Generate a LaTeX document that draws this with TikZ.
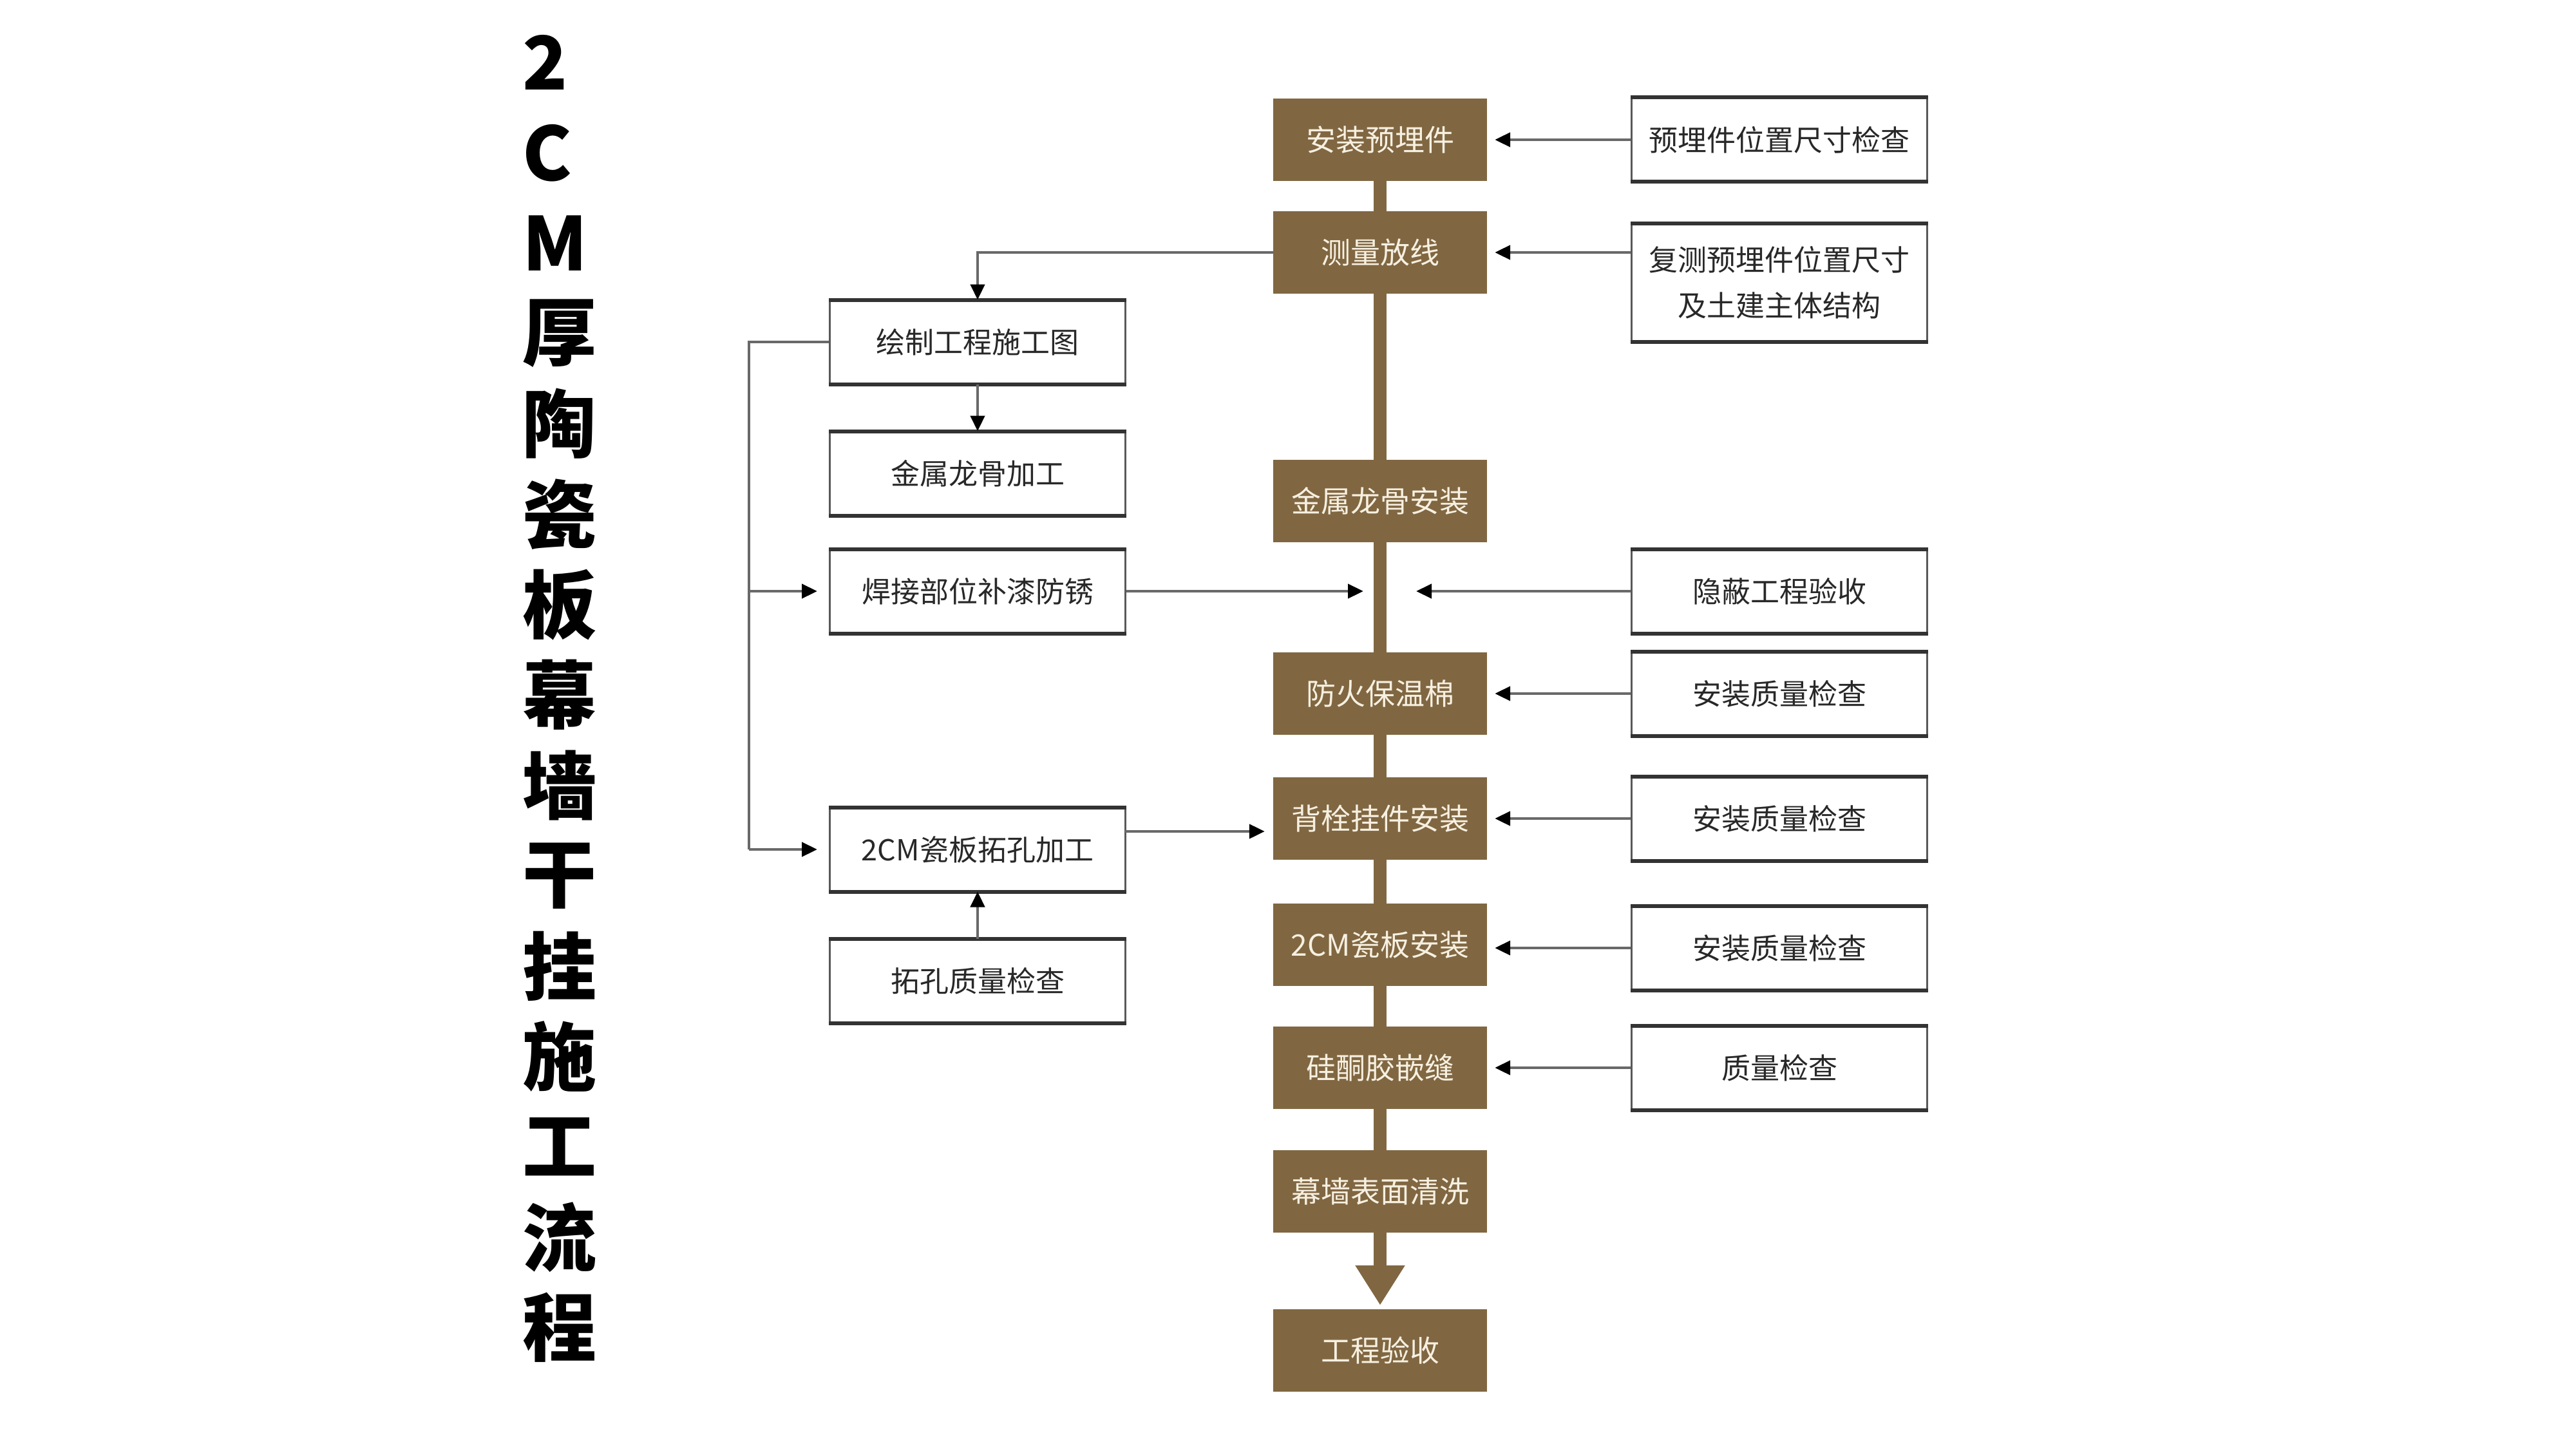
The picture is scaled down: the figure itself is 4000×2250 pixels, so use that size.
\documentclass[tikz,border=0pt]{standalone}
\usepackage{fontspec}
\setmainfont{Noto Sans CJK SC}
\usetikzlibrary{arrows.meta}
\definecolor{brn}{RGB}{128,103,66}
\definecolor{cream}{RGB}{247,240,225}
\definecolor{lgray}{RGB}{105,105,105}
\definecolor{boxtext}{RGB}{40,40,40}
\begin{document}
\begin{tikzpicture}[x=1pt,y=-1pt,
  brownbox/.style={fill=brn, minimum width=332pt, minimum height=128pt, inner sep=0pt,
    text=cream, font=\fontsize{46pt}{56pt}\selectfont},
  whitebox/.style={draw=black!65, line width=3pt, fill=white, minimum width=459pt,
    minimum height=128pt, inner sep=0pt, text=boxtext, align=center,
    font=\fontsize{45pt}{71pt}\selectfont},
  conn/.style={draw=lgray, line width=4.5pt},
  arr/.style={conn, -{Triangle[length=24pt,width=22pt,color=black,fill=black]}},
  brnline/.style={draw=brn, line width=20pt},
  titlechar/.style={anchor=west, inner sep=0pt, font=\fontsize{115pt}{120pt}\selectfont\bfseries},
]
\useasboundingbox[fill=white] (0,0) rectangle (4000,2250);

% title
\foreach \c [count=\i from 0] in {2,C,M,厚,陶,瓷,板,幕,墙,干,挂,施,工,流,程}
  \node[titlechar] (t\i) at (811,{97+140.3*\i}) {\c};

% main column
\node[brownbox] (a1) at (2143,217) {安装预埋件};
\node[brownbox] (a2) at (2143,392) {测量放线};
\node[brownbox] (a3) at (2143,778) {金属龙骨安装};
\node[brownbox] (a4) at (2143,1077) {防火保温棉};
\node[brownbox] (a5) at (2143,1271) {背栓挂件安装};
\node[brownbox] (a6) at (2143,1467) {2CM瓷板安装};
\node[brownbox] (a7) at (2143,1658) {硅酮胶嵌缝};
\node[brownbox] (a8) at (2143,1850) {幕墙表面清洗};
\node[brownbox] (a9) at (2143,2097) {工程验收};

% right column
\node[whitebox] (r1) at (2763,217) {预埋件位置尺寸检查};
\node[whitebox, minimum height=181pt] (r2) at (2763,439) {复测预埋件位置尺寸\\及土建主体结构};
\node[whitebox] (r3) at (2763,918) {隐蔽工程验收};
\node[whitebox] (r4) at (2763,1077) {安装质量检查};
\node[whitebox] (r5) at (2763,1271) {安装质量检查};
\node[whitebox] (r6) at (2763,1472) {安装质量检查};
\node[whitebox] (r7) at (2763,1658) {质量检查};

% left column
\node[whitebox] (l1) at (1518,531) {绘制工程施工图};
\node[whitebox] (l2) at (1518,735) {金属龙骨加工};
\node[whitebox] (l3) at (1518,918) {焊接部位补漆防锈};
\node[whitebox] (l4) at (1518,1319) {2CM瓷板拓孔加工};
\node[whitebox] (l5) at (1518,1523) {拓孔质量检查};

% thicker top / bottom edges of the white boxes
\foreach \n in {r1,r2,r3,r4,r5,r6,r7,l1,l2,l3,l4,l5}
  \draw[line width=6pt, black!80] (\n.north west) -- (\n.north east)
                                  (\n.south west) -- (\n.south east);

% brown spine
\draw[brnline] (a1.south) -- (a2.north);
\draw[brnline] (a2.south) -- (a3.north);
\draw[brnline] (a3.south) -- (a4.north);
\draw[brnline] (a4.south) -- (a5.north);
\draw[brnline] (a5.south) -- (a6.north);
\draw[brnline] (a6.south) -- (a7.north);
\draw[brnline] (a7.south) -- (a8.north);
\draw[brnline, -{Triangle[length=62pt,width=73pt]}, shorten >=6pt] (a8.south) -- (a9.north);

% right-side checks
\foreach \r/\a in {r1/a1,r4/a4,r5/a5,r6/a6,r7/a7}
  \draw[arr] (\r.west) -- ([xshift=12pt]\a.east |- \r.west);
\draw[arr] (r2.west |- a2.east) -- ([xshift=12pt]a2.east);

% junction on the spine
\coordinate (jl) at (2117,918);
\coordinate (jr) at (2199,918);
\draw[arr] (r3.west) -- (jr);
\draw[arr] (l3.east) -- (jl);

% left flow
\draw[arr] (a2.west) -| (l1.north);
\draw[arr] (l1.south) -- (l2.north);
\coordinate (bx) at (1163,531);
\draw[conn] (l1.west) -- (bx) -- (bx |- l4.west);
\draw[arr] (bx |- l3.west) -- ([xshift=-18pt]l3.west);
\draw[arr] (bx |- l4.west) -- ([xshift=-18pt]l4.west);
\coordinate (k) at (1747,1291);
\coordinate (a5w) at ([xshift=-13pt]a5.west);
\draw[arr] (k) -- (a5w |- k);
\draw[arr] (l5.north) -- (l4.south);
\end{tikzpicture}
\end{document}
